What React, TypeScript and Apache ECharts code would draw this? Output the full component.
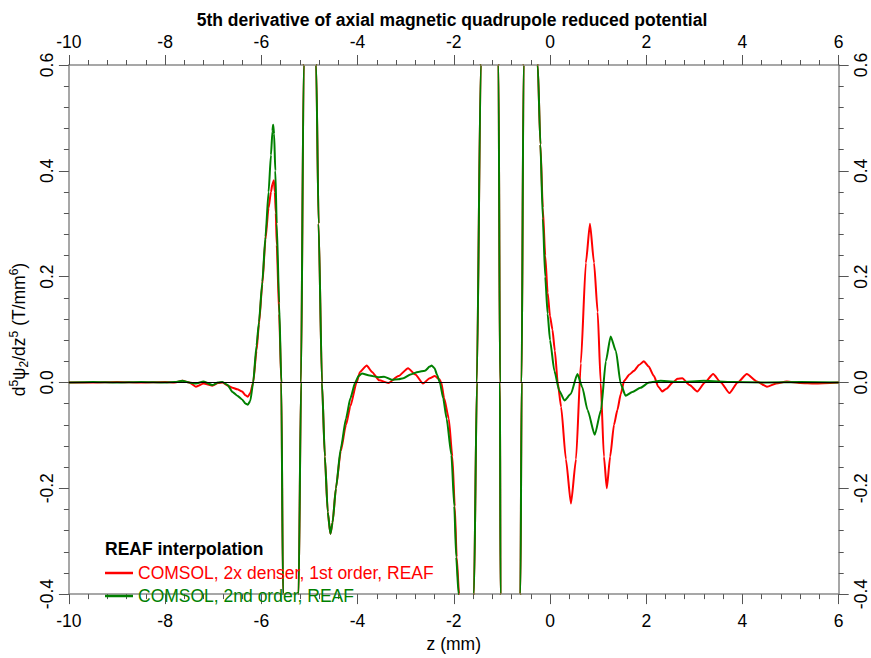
import React, { useEffect, useRef } from "react";
import * as echarts from "echarts";

// ---- data ----
const zGreen = [
  -10, -9.5, -9, -8.5, -8, -7.8, -7.64, -7.5, -7.36, -7.2, -7.02, -6.9, -6.81, -6.7, -6.6, -6.5, -6.4, -6.33, -6.28, -6.23,
  -6.17, -6.1, -6.05, -5.98, -5.915, -5.85, -5.8, -5.77, -5.755, -5.735, -5.71, -5.68, -5.63, -5.585, -5.55, -5.47, -5.39,
  -5.3, -5.225, -5.175, -5.12, -5.05, -4.99, -4.92, -4.86, -4.81, -4.74, -4.68, -4.62, -4.565, -4.52, -4.45, -4.35, -4.24,
  -4.15, -4.05, -3.98, -3.91, -3.75, -3.57, -3.45, -3.29, -3.15, -3.05, -2.9, -2.74, -2.6, -2.5, -2.46, -2.4, -2.35, -2.29,
  -2.22, -2.15, -2.05, -1.99, -1.95, -1.9, -1.8, -1.72, -1.65, -1.58, -1.52, -1.44, -1.35, -1.25, -1.15, -1.07, -1.04, -1.03,
  -0.92, -0.82, -0.72, -0.615, -0.59, -0.55, -0.47, -0.4, -0.33, -0.255, -0.2, -0.15, -0.1, -0.05, 0.0, 0.09, 0.19, 0.3,
  0.43, 0.57, 0.67, 0.78, 0.93, 1.06, 1.16, 1.26, 1.37, 1.47, 1.57, 1.71, 1.88, 2.06, 2.3, 2.7, 3.2, 3.8, 4.5, 5.2, 6.0,
];
const vGreen = [
  0, 0.001, 0, 0.001, 0, 0.001, 0.003, 0, -0.002, 0.002, -0.005, 0, 0.001, -0.005, -0.018, -0.025, -0.032, -0.04, -0.042, -0.035,
  0, 0.07, 0.114, 0.19, 0.275, 0.36, 0.43, 0.475, 0.487, 0.47, 0.4, 0.3, 0.15, 0, -0.4, -1.3, -2.0,
  -1.3, -0.4, 0, 0.6, 1.5, 2.0, 1.3, 0.6, 0.3, 0, -0.14, -0.245, -0.286, -0.265, -0.2, -0.125, -0.068,
  -0.03, 0, 0.012, 0.017, 0.013, 0.01, 0.011, 0.005, 0.006, 0.008, 0.015, 0.02, 0.022, 0.03, 0.032, 0.027, 0.015, 0,
  -0.03, -0.068, -0.137, -0.234, -0.33, -0.4, -0.75, -1.0, -0.8, -0.4, 0, 0.6, 1.4, 2.0, 1.4, 0.6, 0, -0.4,
  -2.5, -3.0, -2.5, -0.4, 0, 0.6, 2.0, 2.5, 1.8, 0.6, 0.45, 0.31, 0.2, 0.13, 0.08, 0.022, -0.015, -0.034,
  -0.022, 0.016, -0.009, -0.052, -0.099, -0.052, 0.04, 0.087, 0.059, -0.003, -0.025, -0.018, -0.01, 0, 0.003, 0.001, 0.003, 0.001, 0, 0.001, 0,
];

const zRed = [
  -10, -9.5, -9, -8.5, -8, -7.8, -7.64, -7.5, -7.36, -7.2, -7.02, -6.9, -6.81, -6.7, -6.6, -6.5, -6.4, -6.33, -6.28, -6.23,
  -6.17, -6.1, -6.05, -5.98, -5.915, -5.85, -5.8, -5.77, -5.74, -5.72, -5.7, -5.68, -5.63, -5.585, -5.55, -5.47, -5.39,
  -5.3, -5.225, -5.175, -5.12, -5.05, -4.99, -4.92, -4.86, -4.81, -4.74, -4.68, -4.62, -4.565, -4.52, -4.45, -4.35, -4.24,
  -4.15, -4.02, -3.95, -3.81, -3.7, -3.55, -3.36, -3.15, -2.95, -2.8, -2.64, -2.5, -2.395, -2.3, -2.26, -2.2, -2.105, -2.03,
  -1.98, -1.94, -1.89, -1.8, -1.72, -1.65, -1.58, -1.52, -1.44, -1.35, -1.25, -1.15, -1.07, -1.04, -1.03,
  -0.92, -0.82, -0.72, -0.615, -0.59, -0.55, -0.47, -0.4, -0.33, -0.255, -0.2, -0.15, -0.1, -0.05, 0.0, 0.05, 0.1, 0.16,
  0.23, 0.33, 0.435, 0.54, 0.64, 0.745, 0.83, 0.915, 0.99, 1.053, 1.12, 1.18, 1.25, 1.33, 1.4, 1.47, 1.54, 1.65, 1.745,
  1.85, 1.95, 2.05, 2.16, 2.25, 2.33, 2.42, 2.55, 2.65, 2.75, 2.9, 3.06, 3.22, 3.39, 3.55, 3.73, 3.9, 4.09, 4.3, 4.51, 4.7,
  4.92, 5.2, 5.5, 6.0,
];
const vRed = [
  0, 0, 0.001, 0, 0.001, 0, 0.003, 0, -0.008, -0.002, -0.006, -0.001, 0, -0.006, -0.01, -0.013, -0.017, -0.024, -0.027, -0.02,
  0, 0.06, 0.11, 0.185, 0.27, 0.33, 0.36, 0.375, 0.382, 0.36, 0.32, 0.26, 0.13, 0, -0.4, -1.3, -2.0,
  -1.3, -0.4, 0, 0.6, 1.5, 2.0, 1.3, 0.6, 0.3, 0, -0.14, -0.245, -0.286, -0.265, -0.2, -0.13, -0.08,
  -0.045, 0, 0.02, 0.032, 0.02, 0.004, -0.001, 0.012, 0.027, 0.015, -0.002, 0.008, 0.012, 0.006, 0, -0.03, -0.068, -0.14,
  -0.234, -0.33, -0.4, -0.75, -1.0, -0.8, -0.4, 0, 0.6, 1.4, 2.0, 1.4, 0.6, 0, -0.4,
  -2.5, -3.0, -2.5, -0.4, 0, 0.6, 2.0, 2.5, 1.8, 0.6, 0.45, 0.33, 0.24, 0.17, 0.125, 0.1, 0.06, 0,
  -0.046, -0.145, -0.229, -0.145, 0.036, 0.226, 0.3, 0.226, 0.133, 0, -0.14, -0.2, -0.14, -0.08, -0.052, -0.022, 0.003, 0.015, 0.022,
  0.033, 0.04, 0.03, 0.012, -0.008, -0.017, -0.012, 0, 0.007, 0.008, -0.005, -0.017, 0, 0.016, 0, -0.02, 0, 0.016, 0.002, -0.008, -0.002,
  0.002, -0.001, -0.002, 0,
];

const xTicks = { min: -10, max: 6, interval: 2 };
const yTicks = { min: -0.4, max: 0.6, interval: 0.2 };

const titleText = "5th derivative of axial magnetic quadrupole reduced potential";
const legendTitle = "REAF interpolation";
const redName = "COMSOL, 2x denser, 1st order, REAF";
const greenName = "COMSOL, 2nd order, REAF";
const xName = "z (mm)";

const FONT = '"Liberation Sans", Arial, sans-serif';
const FS = 17.5;

function pairs(z: number[], v: number[]) {
  return z.map((x, i) => [x, v[i]]);
}

export default function App() {
  const ref = useRef<HTMLDivElement>(null);
  useEffect(() => {
    if (!ref.current) return;
    const chart = echarts.init(ref.current, undefined, { renderer: "svg", width: 871, height: 658 });
    const axisLine = { show: true, onZero: false, lineStyle: { color: "#8a8a8a", width: 1.5 } };
    const axisTick = { show: true, length: 10, lineStyle: { color: "#555", width: 1 } };
    const minorTick = { show: true, splitNumber: 5, length: 5, lineStyle: { color: "#555", width: 1 } };
    const labelBase = { color: "#000", fontSize: FS, fontFamily: FONT };
    const xAxisBase = {
      type: "value",
      ...xTicks,
      axisLine,
      axisTick,
      minorTick,
      splitLine: { show: false },
      minorSplitLine: { show: false },
    };
    const yFmt = (v: number) => (Math.abs(v) < 1e-9 ? "0.0" : v.toFixed(1));
    const yAxisBase = {
      type: "value",
      ...yTicks,
      axisLine,
      axisTick,
      minorTick,
      splitLine: { show: false },
      minorSplitLine: { show: false },
    };
    const lineCommon = {
      type: "line",
      xAxisIndex: 0,
      yAxisIndex: 0,
      showSymbol: false,
      symbol: "none",
      clip: true,
      smooth: 0.2,
      smoothMonotone: "x",
    };
    chart.setOption({
      animation: false,
      backgroundColor: "#fff",
      textStyle: { fontFamily: FONT },
      grid: { left: 66, top: 65, width: 772.7, height: 539, containLabel: false },
      graphic: [
        {
          type: "text",
          x: 452,
          y: 20,
          style: {
            text: titleText,
            align: "center",
            verticalAlign: "middle",
            fontSize: FS,
            fontWeight: "bold",
            fontFamily: FONT,
            fill: "#000",
          },
        },
        {
          type: "text",
          x: 105,
          y: 549,
          style: {
            text: legendTitle,
            align: "left",
            verticalAlign: "middle",
            fontSize: FS,
            fontWeight: "bold",
            fontFamily: FONT,
            fill: "#000",
          },
        },
      ],
      legend: {
        orient: "vertical",
        left: 100,
        top: 559,
        itemWidth: 28,
        itemHeight: 2.5,
        itemGap: 5,
        icon: "rect",
        textStyle: { fontSize: FS, fontFamily: FONT, lineHeight: 18 },
        data: [
          { name: redName, textStyle: { color: "#ff0000" } },
          { name: greenName, textStyle: { color: "#008000" } },
        ],
      },
      xAxis: [
        {
          ...xAxisBase,
          position: "bottom",
          axisLabel: { ...labelBase, margin: 18 },
          name: xName,
          nameLocation: "middle",
          nameGap: 35,
          nameTextStyle: { fontSize: FS, fontFamily: FONT, color: "#000" },
        },
        {
          ...xAxisBase,
          position: "top",
          axisLabel: { ...labelBase, margin: 14 },
        },
      ],
      yAxis: [
        {
          ...yAxisBase,
          position: "left",
          axisLabel: { ...labelBase, rotate: 90, margin: 13, formatter: yFmt },
          name: "{n|d}{sup|5}{n|ψ}{sub|2}{n|/dz}{sup|5}{n| (T/mm}{sup|6}{n|)}",
          nameLocation: "middle",
          nameGap: 33,
          nameTextStyle: {
            color: "#000",
            fontFamily: FONT,
            rich: {
              n: { fontSize: FS, fontFamily: FONT, color: "#000", lineHeight: 22, verticalAlign: "middle" },
              sup: { fontSize: 12, fontFamily: FONT, color: "#000", lineHeight: 22, verticalAlign: "top" },
              sub: { fontSize: 12, fontFamily: FONT, color: "#000", lineHeight: 22, verticalAlign: "bottom" },
            },
          },
        },
        {
          ...yAxisBase,
          position: "right",
          axisLabel: { ...labelBase, rotate: 90, margin: 13, formatter: yFmt },
        },
      ],
      series: [
        {
          ...lineCommon,
          name: redName,
          data: pairs(zRed, vRed),
          color: "#ff0000",
          lineStyle: { color: "#ff0000", width: 2 },
          z: 2,
          markLine: {
            silent: true,
            symbol: ["none", "none"],
            label: { show: false },
            lineStyle: { color: "#000", width: 1, type: "solid" },
            data: [{ yAxis: 0 }],
          },
        },
        {
          ...lineCommon,
          name: greenName,
          data: pairs(zGreen, vGreen),
          color: "#008000",
          lineStyle: { color: "#008000", width: 2 },
          z: 3,
        },
      ],
    });
    return () => chart.dispose();
  }, []);
  return (
    <div
      ref={ref}
      style={{ position: "fixed", left: 0, top: 0, width: 871, height: 658, background: "#fff" }}
    />
  );
}
